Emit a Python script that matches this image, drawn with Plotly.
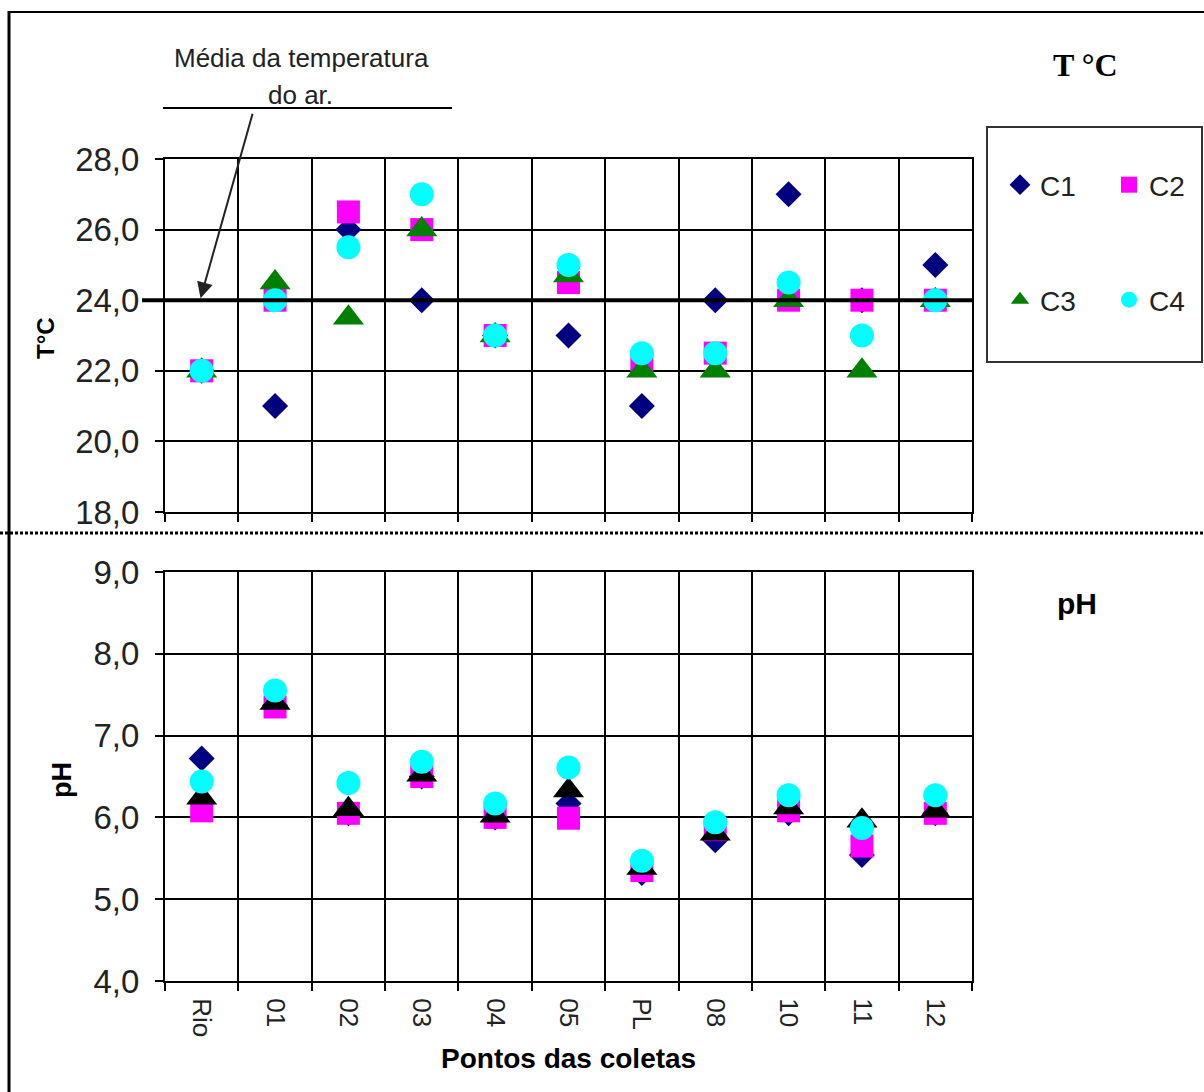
import plotly.graph_objects as go

W, H = 1204, 1092

points = ["Rio", "01", "02", "03", "04", "05", "PL", "08", "10", "11", "12"]

# Temperature (°C)
t_c1 = [22.0, 21.0, 26.0, 24.0, 23.0, 23.0, 21.0, 24.0, 27.0, 24.0, 25.0]
t_c2 = [22.0, 24.0, 26.5, 26.0, 23.0, 24.5, 22.2, 22.5, 24.0, 24.0, 24.0]
t_c3 = [22.0, 24.5, 23.5, 26.0, 23.0, 24.7, 22.0, 22.0, 24.0, 22.0, 24.0]
t_c4 = [22.0, 24.0, 25.5, 27.0, 23.0, 25.0, 22.5, 22.5, 24.5, 23.0, 24.0]

# pH
ph_c1 = [6.72, 7.37, 6.05, 6.50, 6.00, 6.17, 5.32, 5.72, 6.05, 5.54, 6.05]
ph_c2 = [6.08, 7.35, 6.05, 6.50, 6.00, 5.99, 5.35, 5.85, 6.08, 5.65, 6.05]
ph_c3 = [6.24, 7.40, 6.10, 6.52, 6.02, 6.33, 5.38, 5.80, 6.12, 5.96, 6.08]
ph_c4 = [6.44, 7.55, 6.42, 6.68, 6.17, 6.61, 5.47, 5.94, 6.27, 5.87, 6.27]

air_temp_mean = 24.0

series = ["C1", "C2", "C3", "C4"]
top_colors = ["#000080", "#FF00FF", "#008000", "#00FFFF"]
bot_colors = ["#000080", "#FF00FF", "#000000", "#00FFFF"]
symbols = ["diamond", "square", "triangle-up", "circle"]
sizes = [20, 23, 27, 24]

xi = list(range(len(points)))
bounds = [i - 0.5 for i in range(len(points) + 1)]

def px(x):
    return x / W

def py(y):
    return 1 - y / H

fig = go.Figure()

top_data = [t_c1, t_c2, t_c3, t_c4]
bot_data = [ph_c1, ph_c2, ph_c3, ph_c4]
legends = ["legend", "legend", "legend2", "legend2"]

for i, name in enumerate(series):
    fig.add_trace(go.Scatter(
        x=xi, y=top_data[i], mode="markers", name=name,
        marker=dict(symbol=symbols[i], color=top_colors[i], size=sizes[i], line=dict(width=0)),
        xaxis="x", yaxis="y", legend=legends[i], showlegend=True,
    ))
for i, name in enumerate(series):
    fig.add_trace(go.Scatter(
        x=xi, y=bot_data[i], mode="markers", name=name,
        marker=dict(symbol=symbols[i], color=bot_colors[i], size=sizes[i], line=dict(width=0)),
        xaxis="x2", yaxis="y2", showlegend=False,
    ))

font_main = "Liberation Sans, Arial, sans-serif"

xdom = [px(165), px(972)]
common_x = dict(
    range=[-0.5, 10.5], tickvals=xi, ticktext=points, showgrid=False,
    ticks="", showline=True, mirror=True, linecolor="black", linewidth=2,
    zeroline=False, automargin=False,
    minor=dict(tickvals=bounds, showgrid=True, gridcolor="black", gridwidth=2,
               ticks="outside", ticklen=8, tickcolor="black", tickwidth=2),
)
common_y = dict(
    showgrid=True, gridcolor="black", gridwidth=2, ticks="outside", ticklen=8,
    tickcolor="black", tickwidth=2, showline=True, mirror=True, linecolor="black",
    linewidth=2, zeroline=False, tickformat=".1f", automargin=False,
    tickfont=dict(family=font_main, size=33, color="#222222"),
    ticklabelstandoff=9,
)

legend_common = dict(orientation="h", xanchor="left", yanchor="middle",
                     bgcolor="rgba(0,0,0,0)", entrywidth=64, entrywidthmode="pixels",
                     font=dict(family=font_main, size=28, color="#222222"),
                     itemclick=False, itemdoubleclick=False)

fig.update_layout(
    width=W, height=H, autosize=False,
    margin=dict(l=0, r=0, t=0, b=0, autoexpand=False),
    paper_bgcolor="white", plot_bgcolor="white",
    separators=",.",
    xaxis=dict(domain=xdom, anchor="y", showticklabels=False, **common_x),
    xaxis2=dict(domain=xdom, anchor="y2", showticklabels=True, tickangle=90,
                ticklabelstandoff=10,
                tickfont=dict(family=font_main, size=26, color="#222222"), **common_x),
    yaxis=dict(domain=[py(512), py(159)], anchor="x", range=[18, 28], dtick=2, tick0=18, **common_y),
    yaxis2=dict(domain=[py(981), py(572)], anchor="x2", range=[4, 9], dtick=1, tick0=4, **common_y),
    legend=dict(x=px(1000), y=py(185), **legend_common),
    legend2=dict(x=px(1000), y=py(300), **legend_common),
    showlegend=True,
)

shapes = [
    # frame
    dict(type="line", xref="paper", yref="paper", x0=px(9), x1=px(9), y0=py(11), y1=0,
         line=dict(color="black", width=3)),
    dict(type="line", xref="paper", yref="paper", x0=px(9), x1=1, y0=py(12), y1=py(12),
         line=dict(color="black", width=2)),
    # dashed separator
    dict(type="line", xref="paper", yref="paper", x0=0, x1=1, y0=py(533), y1=py(533),
         line=dict(color="black", width=3, dash="3px,2px")),
    # legend box
    dict(type="rect", xref="paper", yref="paper", x0=px(987), x1=px(1202), y0=py(362), y1=py(127),
         line=dict(color="#333333", width=2)),
    # air temperature mean line
    dict(type="line", xref="paper", yref="y", x0=px(142), x1=px(972), y0=air_temp_mean, y1=air_temp_mean,
         line=dict(color="black", width=4)),
    # line under the annotation text
    dict(type="line", xref="paper", yref="paper", x0=px(163), x1=px(452), y0=py(108), y1=py(108),
         line=dict(color="black", width=2)),
]
fig.update_layout(shapes=shapes)

def ann(text, x, y, size, family=font_main, angle=0, color="#222222"):
    return dict(text=text, x=px(x), y=py(y), xref="paper", yref="paper",
                xanchor="center", yanchor="middle", textangle=angle,
                showarrow=False, font=dict(family=family, size=size, color=color))

annotations = [
    ann("Média da temperatura", 301, 58, 26),
    ann("do ar.", 300, 95, 26),
    dict(text="", x=px(200), y=air_temp_mean, xref="paper", yref="y",
         showarrow=True, ax=53, ay=-188, axref="pixel", ayref="pixel",
         arrowhead=2, arrowsize=1.6, arrowwidth=2, arrowcolor="#222222", standoff=2),
    ann("<b>T °C</b>", 1085, 65, 32, family="Liberation Serif, Times New Roman, serif", color="black"),
    ann("<b>pH</b>", 1077, 603, 30, color="black"),
    ann("<b>T°C</b>", 45, 338, 24, angle=-90, color="black"),
    ann("<b>pH</b>", 62, 780, 27, angle=-90, color="black"),
    ann("<b>Pontos das coletas</b>", 568, 1058, 28, color="black"),
]
fig.update_layout(annotations=annotations)

fig.write_html("out.html")
